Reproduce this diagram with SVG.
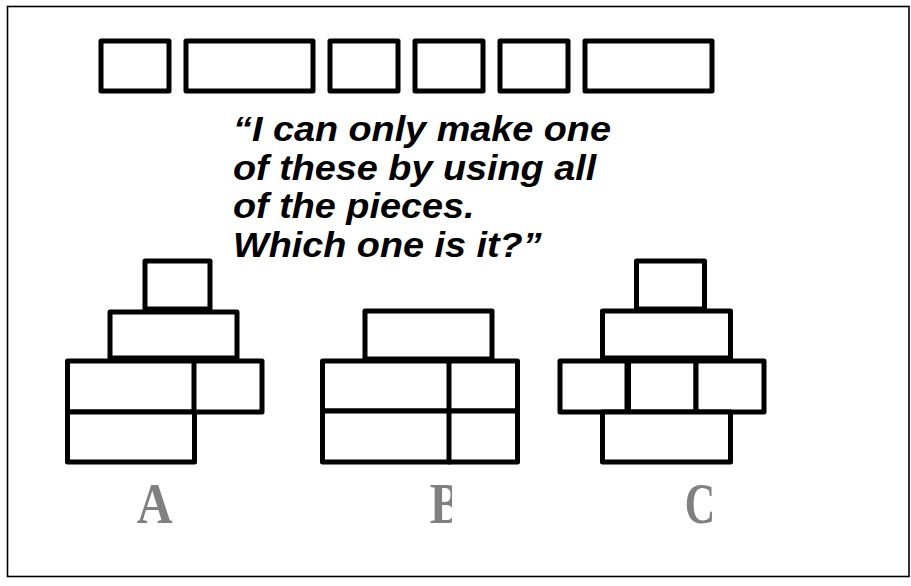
<svg xmlns="http://www.w3.org/2000/svg" width="911" height="586" viewBox="0 0 911 586">
  <style>
    .piece { fill: #ffffff; stroke: #000000; stroke-width: 5; stroke-linejoin: round; }
    .quote { font-family: "Liberation Sans", Arial, sans-serif; font-size: 35px; font-weight: bold; font-style: italic; fill: #000000; }
    .label { font-family: "Liberation Serif", "Times New Roman", serif; font-size: 57px; font-weight: bold; fill: #808080; }
  </style>
  <defs>
    <clipPath id="clip-b">
      <rect x="420" y="470" width="32" height="70"/>
    </clipPath>
  </defs>

  <rect width="911" height="586" fill="#ffffff"/>
  <!-- frame -->
  <rect x="7.5" y="6.5" width="901.5" height="570" fill="none" stroke="#000000" stroke-width="1.6"/>

  <!-- loose pieces -->
  <g id="pieces">
    <rect class="piece" x="101" y="41" width="68" height="50"/>
    <rect class="piece" x="186" y="41" width="127" height="50"/>
    <rect class="piece" x="330" y="41" width="68" height="50"/>
    <rect class="piece" x="415" y="41" width="68" height="50"/>
    <rect class="piece" x="500" y="41" width="68" height="50"/>
    <rect class="piece" x="585" y="41" width="127" height="50"/>
  </g>

  <!-- question -->
  <g id="question" class="quote">
    <text transform="translate(233,141) scale(1.08,1)">“I can only make one</text>
    <text transform="translate(233,179.5) scale(1.08,1)">of these by using all</text>
    <text transform="translate(233,218) scale(1.08,1)">of the pieces.</text>
    <text transform="translate(233,256.5) scale(1.08,1)">Which one is it?”</text>
  </g>

  <!-- option A -->
  <g id="figure-a">
    <rect class="piece" x="145" y="261" width="65" height="48"/>
    <rect class="piece" x="110" y="312" width="127" height="46"/>
    <rect class="piece" x="67.5" y="361" width="127" height="51"/>
    <rect class="piece" x="194" y="361" width="68" height="51"/>
    <rect class="piece" x="67.5" y="412" width="127" height="50"/>
  </g>

  <!-- option B -->
  <g id="figure-b">
    <rect class="piece" x="365" y="311" width="127" height="48"/>
    <rect class="piece" x="322.5" y="361" width="127" height="50"/>
    <rect class="piece" x="449" y="361" width="68.5" height="50"/>
    <rect class="piece" x="322.5" y="411" width="127" height="51"/>
    <rect class="piece" x="449" y="411" width="68.5" height="51"/>
  </g>

  <!-- option C -->
  <g id="figure-c">
    <rect class="piece" x="636.5" y="261" width="68" height="48"/>
    <rect class="piece" x="602.5" y="311" width="128" height="47"/>
    <rect class="piece" x="560" y="361" width="67" height="51"/>
    <rect class="piece" x="628.5" y="361" width="67.5" height="51"/>
    <rect class="piece" x="696" y="361" width="68" height="51"/>
    <rect class="piece" x="602.5" y="412" width="128" height="50"/>
  </g>

  <!-- option letters -->
  <g id="labels" class="label">
    <text transform="translate(154.6,523) scale(0.87,1)" text-anchor="middle">A</text>
    <g clip-path="url(#clip-b)">
      <text transform="translate(446,523) scale(0.85,1)" text-anchor="middle">B</text>
    </g>
    <text transform="translate(700,523) scale(0.74,1)" text-anchor="middle">C</text>
  </g>
</svg>
